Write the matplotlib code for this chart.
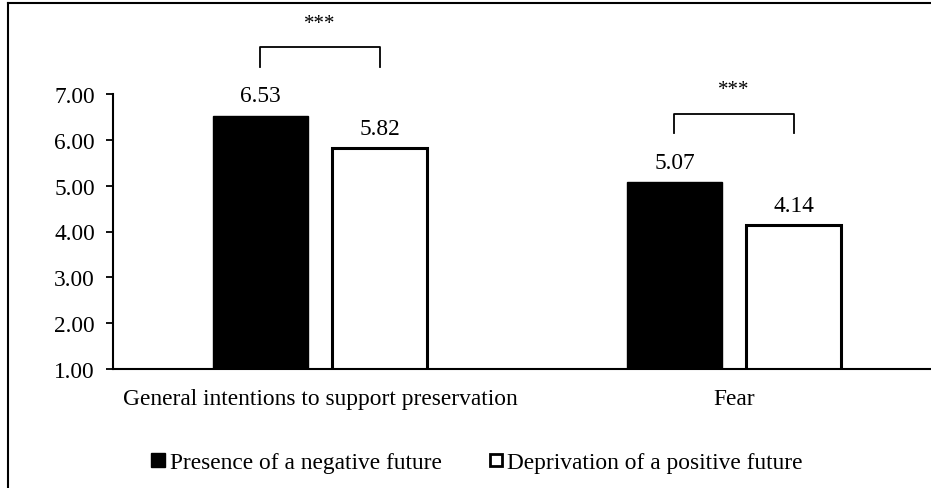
import matplotlib.pyplot as plt
from matplotlib.lines import Line2D

categories = ['General intentions to support preservation', 'Fear']
series_names = ['Presence of a negative future', 'Deprivation of a positive future']
negative_future = [6.53, 5.07]
positive_deprivation = [5.82, 4.14]
sig_labels = ['***', '***']
y_ticks = [1, 2, 3, 4, 5, 6, 7]

plt.rcParams['font.family'] = ['Liberation Serif', 'DejaVu Serif']
plt.rcParams['font.size'] = 16.8

dpi = 100
fig = plt.figure(figsize=(931 / dpi, 489 / dpi), dpi=dpi)
ax = fig.add_axes([113 / 931, 119 / 489, 828 / 931, 275 / 489])

x = range(len(categories))
w = 0.228
off = 0.144
xs1 = [i - off for i in x]
xs2 = [i + off for i in x]
ax.bar(xs1, negative_future, width=w, color='black', edgecolor='black', linewidth=1)
ax.bar(xs2, positive_deprivation, width=w, color='white', edgecolor='black', linewidth=2.2)

for xi, v in zip(xs1, negative_future):
    ax.text(xi, v + 0.2, f'{v:.2f}', ha='center', va='bottom')
for xi, v in zip(xs2, positive_deprivation):
    ax.text(xi, v + 0.2, f'{v:.2f}', ha='center', va='bottom')

# significance brackets
for i, s in enumerate(sig_labels):
    top = max(negative_future[i], positive_deprivation[i]) + 1.5
    ax.plot([xs1[i], xs1[i], xs2[i], xs2[i]], [top - 0.43, top, top, top - 0.43],
            color='black', lw=1.3, clip_on=False, solid_joinstyle='round')
    ax.text(x[i], top + 0.42, s, ha='center', va='baseline', fontsize=15, clip_on=False)

ax.set_xlim(-0.5, 1.5)
ax.set_ylim(1, 7)
ax.set_yticks(y_ticks)
ax.set_yticklabels([f'{t:.2f}' for t in y_ticks])
ax.set_xticks(list(x))
ax.set_xticklabels(categories)
ax.tick_params(axis='x', length=0, pad=14)
ax.tick_params(axis='y', length=5, width=1.3, pad=8)
ax.spines['top'].set_visible(False)
ax.spines['right'].set_visible(False)
ax.spines['left'].set_linewidth(1.5)
ax.spines['bottom'].set_linewidth(1.5)

handles = [Line2D([], [], ls='none', marker='s', markersize=10, markerfacecolor='black',
                  markeredgecolor='black', markeredgewidth=1),
           Line2D([], [], ls='none', marker='s', markersize=9, markerfacecolor='white',
                  markeredgecolor='black', markeredgewidth=2)]
fig.legend(handles, series_names, loc='center', bbox_to_anchor=(477 / 931, 1 - 463 / 489),
           ncol=2, frameon=False, handlelength=0.6, handletextpad=0.2, columnspacing=2.0)

# outer frame (left and top edges visible)
fig.add_artist(Line2D([8 / 931, 8 / 931], [0, 1 - 4 / 489], color='black', lw=1.5))
fig.add_artist(Line2D([8 / 931, 1], [1 - 4 / 489, 1 - 4 / 489], color='black', lw=1.5))

fig.savefig('out.png', dpi=dpi)
